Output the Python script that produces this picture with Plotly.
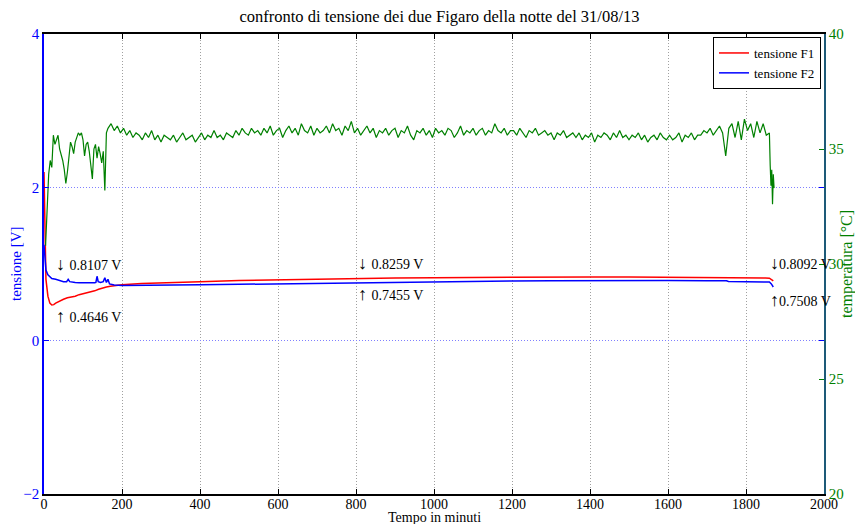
import plotly.graph_objects as go

# ---------------- data ----------------
# tensione F1 (red)
t_f1 = [0, 2, 5, 10, 15, 20, 25, 30, 40, 50, 60, 70, 80, 90, 100, 110, 120, 130, 140,
        150, 160, 170, 180, 200, 250, 300, 400, 500, 600, 700, 800, 900, 1000, 1100,
        1200, 1300, 1400, 1500, 1600, 1700, 1750, 1755, 1800, 1850, 1860, 1865, 1870]
v_f1 = [2.2, 1.3, 0.8, 0.58, 0.49, 0.465, 0.47, 0.49, 0.52, 0.54, 0.56, 0.57, 0.58, 0.60,
        0.61, 0.62, 0.64, 0.65, 0.67, 0.69, 0.70, 0.71, 0.72, 0.73, 0.745, 0.755, 0.77,
        0.785, 0.795, 0.805, 0.812, 0.818, 0.822, 0.826, 0.83, 0.83, 0.83, 0.829, 0.828,
        0.827, 0.827, 0.818, 0.818, 0.818, 0.815, 0.795, 0.78]

# tensione F2 (blue)
t_f2 = [0, 2, 5, 10, 15, 20, 30, 40, 50, 58, 62, 66, 70, 80, 90, 100, 110, 120, 130, 133,
        136, 139, 145, 152, 156, 160, 164, 168, 180, 200, 250, 300, 400, 500, 600, 700,
        800, 900, 1000, 1100, 1200, 1300, 1400, 1500, 1600, 1700, 1750, 1755, 1800, 1850,
        1860, 1865, 1870]
v_f2 = [1.25, 1.05, 0.92, 0.86, 0.83, 0.81, 0.80, 0.78, 0.77, 0.77, 0.80, 0.77, 0.765,
        0.76, 0.755, 0.755, 0.75, 0.75, 0.755, 0.76, 0.84, 0.77, 0.76, 0.77, 0.82, 0.76,
        0.80, 0.74, 0.725, 0.72, 0.72, 0.722, 0.728, 0.735, 0.742, 0.75, 0.755, 0.762,
        0.768, 0.773, 0.778, 0.782, 0.785, 0.785, 0.784, 0.782, 0.782, 0.772, 0.772,
        0.77, 0.765, 0.74, 0.70]

# temperatura (green) - first part sampled every 4 min from 4 to 160
temp_start_a, temp_step_a = 4, 4
temp_a = [30.8, 32.6, 33.9, 34.5, 34.2, 35.6, 35.2, 35.4, 35.6, 35.0,
          34.8, 34.5, 34.1, 33.5, 34.0, 34.6, 35.3, 35.1, 34.8, 35.3,
          35.5, 35.7, 35.6, 35.7, 35.4, 34.7, 35.2, 35.3, 34.9, 34.4,
          33.7, 35.0, 35.2, 34.6, 35.1, 34.8, 34.4, 34.9, 33.2, 35.7]
# second part sampled every 8 min from 164 to 1860
temp_start_b, temp_step_b = 164, 8
temp_b = [35.9, 36.1, 35.8, 36.0, 35.7, 35.9, 35.6, 35.8, 35.5, 35.7,
          35.6, 35.4, 35.7, 35.5, 35.8, 35.4, 35.6, 35.3, 35.6, 35.5,
          35.4, 35.6, 35.3, 35.5, 35.7, 35.4, 35.5, 35.6, 35.3, 35.5,
          35.7, 35.4, 35.6, 35.5, 35.8, 35.5, 35.6, 35.4, 35.7, 35.6,
          35.5, 35.8, 35.6, 35.9, 35.7, 35.6, 35.9, 35.7, 35.8, 35.6,
          35.9, 35.7, 36.0, 35.6, 35.8, 35.9, 35.5, 35.8, 36.0, 35.7,
          35.9, 35.6, 36.1, 35.8, 35.7, 36.0, 35.6, 35.9, 35.7, 35.8,
          36.0, 35.7, 36.1, 35.8, 35.9, 35.6, 36.0, 35.8, 36.2, 35.7,
          35.9, 35.6, 35.8, 36.0, 35.7, 35.9, 35.5, 35.8, 35.7, 35.9,
          35.6, 35.8, 35.9, 35.5, 35.8, 35.7, 36.0, 35.6, 35.4, 35.8,
          35.7, 35.9, 35.6, 35.8, 35.5, 35.9, 35.7, 35.8, 35.6, 35.9,
          35.8, 35.5, 35.7, 36.0, 35.6, 35.8, 35.7, 35.9, 35.6, 35.8,
          35.9, 35.6, 35.8, 35.7, 36.1, 35.8, 35.7, 35.9, 35.6, 35.8,
          35.8, 35.6, 35.9, 35.7, 35.5, 35.8, 35.7, 35.9, 35.6, 35.7,
          35.8, 35.6, 35.7, 35.4, 35.7, 35.6, 35.8, 35.5, 35.6, 35.7,
          35.5, 35.7, 35.4, 35.6, 35.5, 35.7, 35.3, 35.6, 35.5, 35.7,
          35.6, 35.4, 35.7, 35.5, 35.8, 35.5, 35.6, 35.4, 35.6, 35.5,
          35.7, 35.4, 35.6, 35.3, 35.5, 35.6, 35.4, 35.7, 35.5, 35.4,
          35.6, 35.4, 35.5, 35.7, 35.3, 35.6, 35.5, 35.7, 35.4, 35.6,
          35.6, 35.8, 35.7, 35.9, 35.6, 35.8, 36.0, 35.7, 34.7, 35.9,
          36.1, 35.5, 36.2, 35.4, 36.3, 35.8, 36.1, 35.5, 36.2, 35.7,
          36.1, 35.6, 35.7]
# final drop
t_temp_c = [1862, 1864, 1866, 1868, 1870, 1872]
temp_c = [34.3, 33.4, 34.1, 32.6, 33.9, 33.3]

# annotations (arrow, value text, x in minutes, y in V)
ann_arrow = ["\u2193 ", "\u2191 ", "\u2193 ", "\u2191 ", "\u2193", "\u2191"]
ann_text = ["0.8107 V", "0.4646 V", "0.8259 V", "0.7455 V", "0.8092 V", "0.7508 V"]
ann_x = [26, 26, 800, 800, 1857, 1857]
ann_y = [1.0, 0.316, 1.016, 0.605, 1.016, 0.527]

x_ticks = [0, 200, 400, 600, 800, 1000, 1200, 1400, 1600, 1800, 2000]
v_ticks = [-2, 0, 2, 4]
temp_ticks = [20, 25, 30, 35, 40]

# ---------------- figure ----------------
t_temp = ([temp_start_a + i * temp_step_a for i in range(len(temp_a))]
          + [temp_start_b + i * temp_step_b for i in range(len(temp_b))]
          + t_temp_c)
temp_all = temp_a + temp_b + temp_c

FONT = "Liberation Serif"
BLUE = "#0000ff"
GREEN = "#008000"

# plot area in pixels
L, R, T, B = 44, 824, 34, 494
W, H = 855, 524
PW, PH = R - L, B - T

fig = go.Figure()
fig.add_trace(go.Scatter(x=t_temp, y=temp_all, yaxis="y2", mode="lines",
                         line=dict(color=GREEN, width=1.2), showlegend=False))
fig.add_trace(go.Scatter(x=t_f1, y=v_f1, mode="lines", name="tensione F1",
                         line=dict(color="#ff0000", width=1.5)))
fig.add_trace(go.Scatter(x=t_f2, y=v_f2, mode="lines", name="tensione F2",
                         line=dict(color=BLUE, width=1.5)))

annotations = []
for arr, txt, ax, ay in zip(ann_arrow, ann_text, ann_x, ann_y):
    annotations.append(dict(
        x=ax, y=ay, xref="x", yref="y",
        text="<span style='font-size:18px'>" + arr + "</span>" + txt,
        showarrow=False, xanchor="left", yanchor="middle",
        font=dict(family=FONT, size=14, color="#000000")))
# axis titles
annotations.append(dict(x=(16 - L) / PW, y=0.5, xref="paper", yref="paper",
                        text="tensione [V]", textangle=-90, showarrow=False,
                        xanchor="center", yanchor="middle",
                        font=dict(family=FONT, size=15, color=BLUE)))
annotations.append(dict(x=(847 - L) / PW, y=0.5, xref="paper", yref="paper",
                        text="temperatura [\u00b0C]", textangle=-90, showarrow=False,
                        xanchor="center", yanchor="middle",
                        font=dict(family=FONT, size=16, color=GREEN)))
annotations.append(dict(x=0.5, y=(B - 517) / PH, xref="paper", yref="paper",
                        text="Tempo in minuti", showarrow=False,
                        xanchor="center", yanchor="middle",
                        font=dict(family=FONT, size=14, color="#000000")))

fig.update_layout(
    width=W, height=H,
    margin=dict(l=L, r=W - R, t=T, b=H - B, autoexpand=False),
    paper_bgcolor="white", plot_bgcolor="white",
    font=dict(family=FONT, size=14, color="#000000"),
    title=dict(text="confronto di tensione dei due Figaro della notte del 31/08/13",
               x=439.5 / W, xanchor="center", y=1 - 16 / H, yanchor="middle",
               font=dict(family=FONT, size=16.5, color="#000000")),
    xaxis=dict(range=[0, 2000], tickvals=x_ticks, ticks="inside", ticklen=5,
               tickcolor="#000000", showline=True, linecolor="#000000", linewidth=1.5,
               mirror="ticks", showgrid=True, gridcolor="#a0a0a0", griddash="1px,2px",
               gridwidth=1, zeroline=False, automargin=False, ticklabelstandoff=-4,
               tickfont=dict(family=FONT, size=14, color="#000000")),
    yaxis=dict(range=[-2, 4], tickvals=v_ticks, ticks="inside", ticklen=5,
               tickcolor=BLUE, showline=True, linecolor=BLUE, linewidth=1.5,
               mirror="ticks", showgrid=True, gridcolor="#8080ff", griddash="1px,2px",
               zeroline=False, automargin=False,
               tickfont=dict(family=FONT, size=15, color=BLUE)),
    yaxis2=dict(range=[20, 40], tickvals=temp_ticks, overlaying="y", side="right",
                ticks="inside", ticklen=5, tickcolor=GREEN, showline=True,
                linecolor="#1d5a78", linewidth=1.5, showgrid=False, zeroline=False,
                automargin=False, tickfont=dict(family=FONT, size=15, color=GREEN)),
    legend=dict(x=(821 - L) / PW, xanchor="right", y=1 - (37 - T) / PH, yanchor="top",
                bgcolor="white", bordercolor="#000000", borderwidth=1,
                font=dict(family=FONT, size=13, color="#000000"),
                tracegroupgap=0, itemwidth=30),
    annotations=annotations,
)

fig.write_html("out.html", config={"displayModeBar": False},
               post_script="document.body.style.margin='0';"
                           "document.body.style.overflow='hidden';")
